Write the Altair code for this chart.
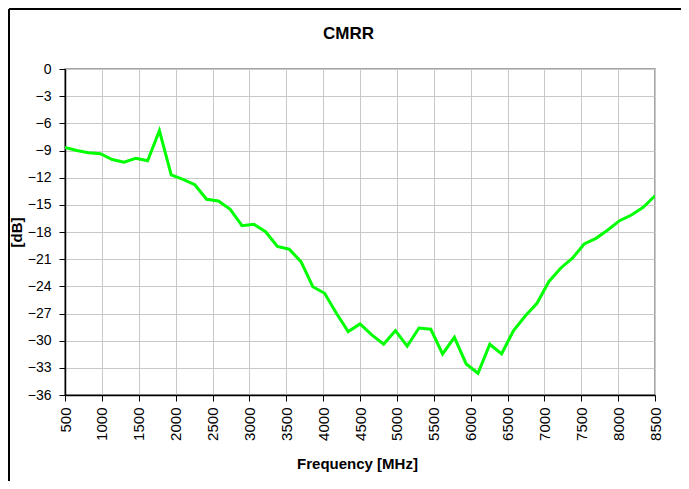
import altair as alt
import pandas as pd

# Data (points every 160 MHz)
freq_mhz = [500 + 160 * k for k in range(51)]
cmrr_db = [
    -8.65, -9.0, -9.25, -9.35, -10.0, -10.3, -9.86, -10.13, -6.81, -11.7,
    -12.18, -12.78, -14.39, -14.58, -15.5, -17.3, -17.15, -17.97, -19.6, -19.9,
    -21.28, -24.04, -24.77, -26.98, -29.0, -28.16, -29.37, -30.4, -28.9, -30.6,
    -28.6, -28.74, -31.47, -29.63, -32.57, -33.6, -30.4, -31.47, -28.9, -27.27,
    -25.87, -23.49, -22.0, -20.9, -19.32, -18.7, -17.78, -16.75, -16.12, -15.27,
    -14.0,
]
x_ticks = list(range(500, 8501, 500))
y_ticks = list(range(-36, 1, 3))
chart_title = "CMRR"

df = pd.DataFrame({"freq": freq_mhz, "cmrr": cmrr_db})
title_df = pd.DataFrame({"label": [chart_title]})

W, H = 590, 326
FONT = "Liberation Sans"

line = alt.Chart(df).mark_line(color="#00ff00", strokeWidth=3, clip=True).encode(
    x=alt.X(
        "freq:Q",
        scale=alt.Scale(domain=[500, 8500], nice=False, zero=False),
        axis=alt.Axis(
            values=x_ticks,
            format="d",
            title="Frequency [MHz]",
            labelAngle=-90,
            labelFontSize=15,
            labelPadding=6,
            tickSize=6,
            titleFontSize=15,
            titleFontWeight="bold",
            titleX=292,
            titleY=68,
            titleBaseline="middle",
            titleAlign="center",
        ),
    ),
    y=alt.Y(
        "cmrr:Q",
        scale=alt.Scale(domain=[-36, 0], nice=False, zero=False),
        axis=alt.Axis(
            values=y_ticks,
            title="[dB]",
            labelFontSize=14,
            labelPadding=8,
            tickSize=6,
            titleFontSize=15,
            titleFontWeight="bold",
            titleX=-49,
            titleY=163,
            titleAngle=270,
            titleBaseline="middle",
            titleAlign="center",
        ),
    ),
)

frame = alt.Chart(df).mark_rule(color="black", strokeWidth=2, clip=False).encode(
    x=alt.value(-56), x2=alt.value(-56), y=alt.value(-60), y2=alt.value(420)
) + alt.Chart(df).mark_rule(color="black", strokeWidth=2, clip=False).encode(
    x=alt.value(-56), x2=alt.value(620), y=alt.value(-60), y2=alt.value(-60)
)

title = alt.Chart(title_df).mark_text(
    fontSize=17, fontWeight="bold", font=FONT, align="center", baseline="middle",
    color="black", clip=False,
).encode(
    text="label:N", x=alt.value(283.5), y=alt.value(-35)
)

chart = (
    alt.layer(frame, line, title)
    .properties(
        width=W,
        height=H,
        autosize=alt.AutoSizeParams(type="none"),
        padding={"left": 57, "top": 61, "right": 26, "bottom": 86},
    )
    .configure(font=FONT)
    .configure_view(stroke="#888888", strokeWidth=1.5)
    .configure_axis(
        labelFont=FONT,
        titleFont=FONT,
        labelColor="black",
        titleColor="black",
        domainColor="black",
        domainWidth=1.5,
        tickColor="black",
        tickWidth=1,
        gridColor="#c8c8c8",
        gridWidth=1,
    )
)

chart.save("out.html", embed_options={"renderer": "svg", "actions": False})
